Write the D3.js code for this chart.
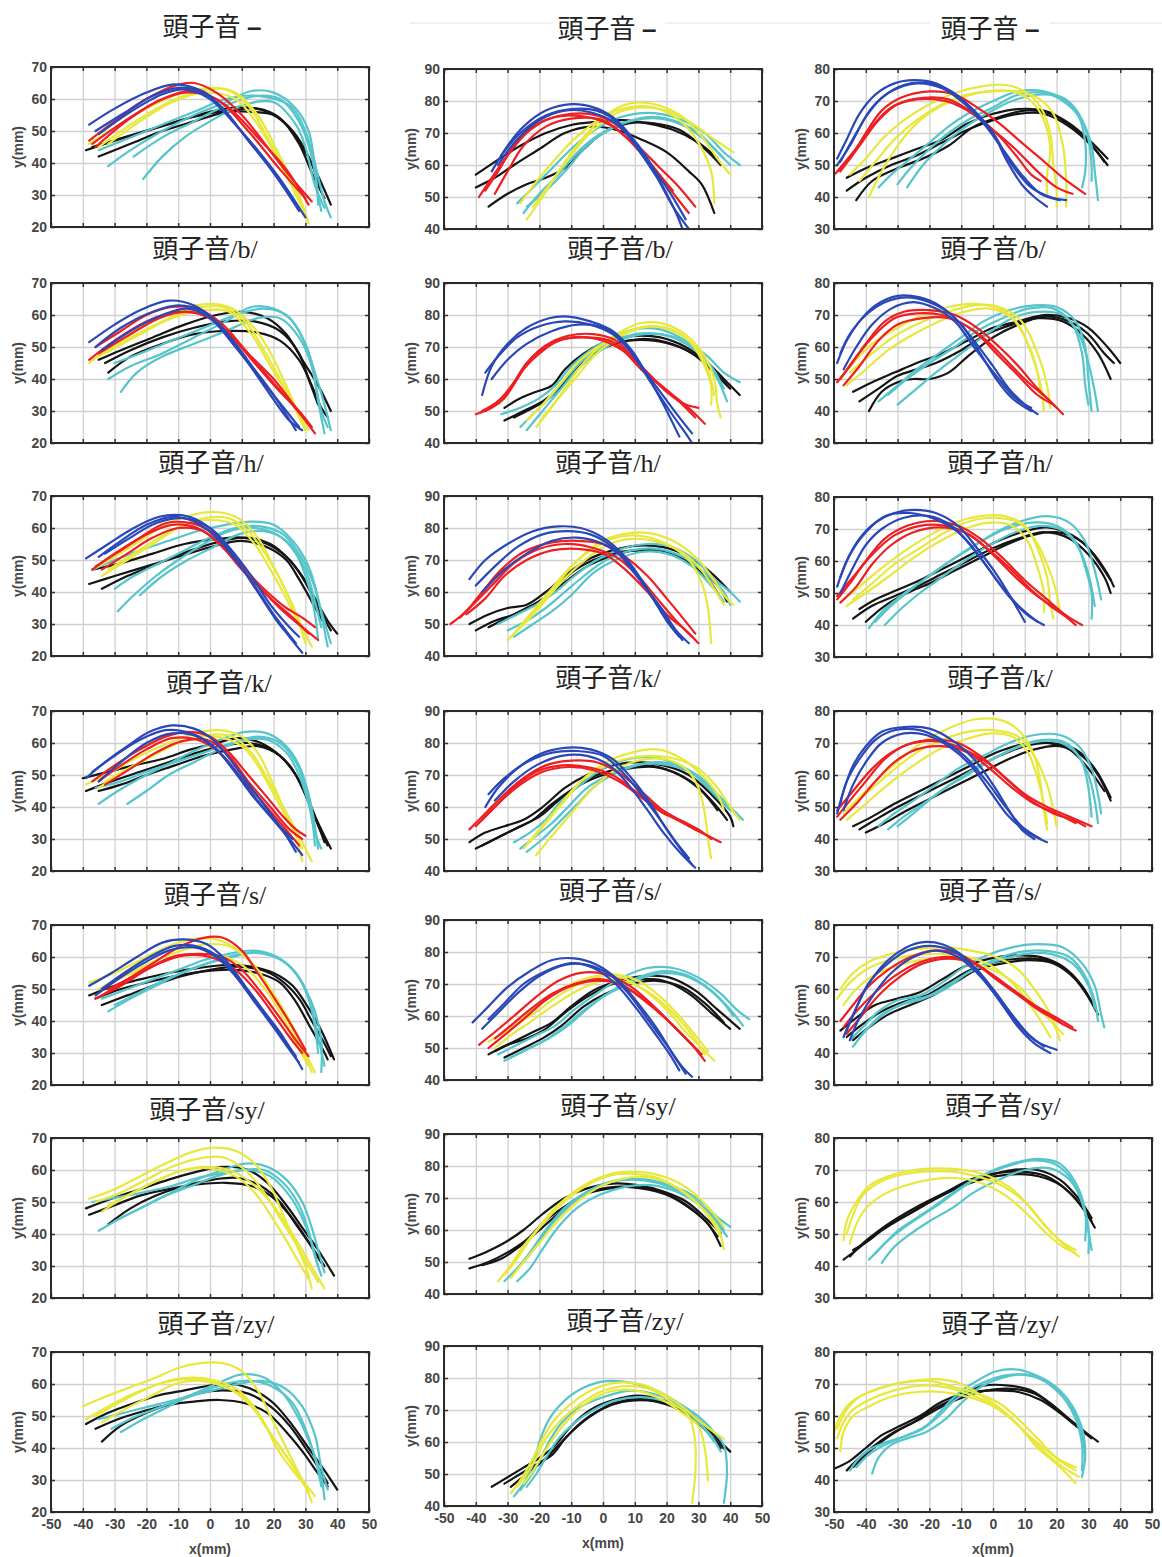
<!DOCTYPE html>
<html>
<head>
<meta charset="utf-8">
<script src="https://cdn.jsdelivr.net/npm/d3@7"></script>
<style>
  body { margin: 0; background: #fff; }
  svg { display: block; }
</style>
</head>
<body>
<svg id="chart"></svg>
<script>
// tongue contours, x/y in mm, each curve is a flat list x1,y1,x2,y2,...
const rowNames = ["–", "/b/", "/h/", "/k/", "/s/", "/sy/", "/zy/"];
const yDomains = [[20, 70], [40, 90], [30, 80]];
const xTickValues = [-50, -40, -30, -20, -10, 0, 10, 20, 30, 40, 50];

const none1 = {
  blue: [[-38,52,-30,57,-20,62,-12,64.5,-5,63.5,0,61,8,52,15,44,22,35,30,23],
         [-36,50,-28,55,-18,61,-10,63.5,-2,62,5,56,12,47,20,37,28,25],
         [-35,49,-25,56,-15,61.5,-8,63,0,60,8,52,17,41,27,27]],
  red: [[-38,47,-30,53,-20,60,-10,64.5,-5,65,2,62,10,55,18,45,25,36,32,28],
        [-36,45,-25,54,-15,60,-5,62.5,5,58,15,48,24,38,31,27],
        [-37,46,-27,53,-17,59,-8,62,2,60,12,50,22,38,30,29]],
  yellow: [[-38,46,-30,51,-20,57,-10,61.5,0,63.5,8,62,15,55,22,42,28,30,31,21],
           [-35,45,-25,52,-15,58,-5,62,5,63,12,58,18,48,25,35,30,24],
           [-32,46,-22,53,-12,59,-2,62,8,60,15,52,22,40,29,26]],
  cyan: [[-32,39,-25,44,-15,50,-5,55,5,59,13,62.5,20,62,27,57,31,50,33,40,36,28,38,23],
         [-24,42,-15,48,-5,53,5,58,15,61,22,60,28,53,32,42,34,30,35,25],
         [-21,35,-15,42,-8,48,0,53,10,58,20,59,27,52,30,45,33,33,36,26],
         [-35,44,-25,48,-15,52,-5,56,5,60,15,61,25,58,30,50,33,38,34,27]],
  black: [[-39,44,-30,47,-20,50,-10,53,0,56,10,57.5,18,56,24,52,29,45,33,38,38,27],
          [-35,42,-25,46,-15,50,-5,53,5,56,15,57,22,54,28,46,32,37,36,29],
          [-37,45,-27,48,-17,51,-7,54,3,56,13,56,20,55,26,50,31,42,35,31]]
};
const none2 = {
  blue: [[-35,58,-30,66,-25,72,-18,77,-10,79,-3,78,3,75,8,70,14,62,19,53,23,45,25,40],
         [-32,63,-26,70,-18,75.5,-10,77.5,-2,77,5,73,11,65,17,56,22,47,27,40],
         [-33,60,-27,68,-20,74,-12,77,-4,76.5,4,73,12,64,20,53,26,43]],
  red: [[-39,50,-35,56,-30,63,-24,70,-18,74,-10,76,-2,75.5,5,72,12,65,18,59,24,53,29,47],
        [-37,52,-33,58,-28,66,-22,72,-15,75,-5,75,3,72,10,66,17,58,23,50,27,45],
        [-34,51,-30,58,-25,66,-18,72,-10,74.5,0,74,8,68,15,60,22,52]],
  yellow: [[-24,43,-19,50,-14,58,-9,65,-3,72,3,77,10,79.5,18,78.5,25,75,31,69,36,62,40,57],
           [-26,48,-20,56,-14,63,-8,69,0,75,8,78,16,78,24,74,30,67,34,58,35,48],
           [-22,47,-16,55,-10,63,-4,70,4,76,12,78,20,77,28,73,35,68,41,64]],
  cyan: [[-27,48,-22,53,-16,59,-10,65,-4,70,3,74,10,76,18,76,25,74,32,70,38,64,43,60],
         [-25,45,-20,51,-14,57,-8,64,-2,69,6,73,14,75,22,74,30,70,36,64,40,60],
         [-24,47,-18,52,-12,58,-5,66,2,71,10,74,18,74.5,26,72,33,67,38,62]],
  black: [[-40,57,-34,61,-26,66,-18,70,-10,72.5,-2,73.5,6,74,14,73,22,71,30,67,36,62],
          [-40,53,-34,56,-28,60,-20,65,-12,70,-4,72,4,71,12,68,20,64,27,58,31,54,35,45],
          [-36,47,-30,51,-24,54,-18,56,-12,59,-6,65,0,70,8,73,16,73,24,71,32,65,37,60]]
};
const none3 = {
  blue: [[-49,52,-46,58,-42,66,-37,72,-31,75.5,-25,76.5,-18,75.5,-12,72,-6,67,0,60,4,52,9,44,13,40,17,37],
         [-49,50,-45,56,-40,65,-35,71,-28,75,-20,75.5,-13,73,-6,67,0,60,6,50,12,43,18,40,23,39],
         [-48,51,-43,60,-38,68,-32,73,-24,75.5,-16,74,-10,70,-3,63,3,55,9,47,15,41,21,39]],
  red: [[-50,47,-45,52,-40,60,-35,67,-29,71,-20,73,-12,72,-5,68,2,63,9,57,15,52,22,46,29,41],
        [-49,48,-44,54,-38,62,-32,68,-24,70.5,-15,70,-8,67,0,61,7,55,14,48,20,43,25,41],
        [-48,48,-42,56,-36,64,-30,69,-22,71,-14,70.5,-6,66,2,59,8,52,12,47,15,45]],
  yellow: [[-45,47,-40,52,-35,58,-28,64,-20,69,-12,72.5,-4,74.5,4,75,10,73,15,68,18,60,19,50,20,42,20,37],
           [-39,40,-35,48,-30,56,-24,63,-17,68,-10,71,-2,73,6,73,12,70,16,64,18,55,17,47,17,41],
           [-42,45,-37,51,-31,58,-24,64,-16,69,-8,72,0,73,8,73,14,71,19,66,22,56,23,45,23,37]],
  cyan: [[-36,43,-32,47,-26,52,-20,57,-14,62,-8,66,0,70,8,73,16,73,23,70,28,64,31,56,32,48,33,39],
         [-30,44,-26,49,-20,55,-14,60,-8,64,0,68,8,72,16,72.5,22,70,27,65,29,57,29,48,28,43],
         [-27,43,-22,50,-16,56,-10,61,-2,66,6,70,14,72,22,71,27,66,30,58,31,50,31,45]],
  black: [[-46,46,-40,49,-32,52,-24,55,-16,58,-8,63,0,66,8,67.5,16,67,24,63,30,58,36,52],
          [-46,42,-40,46,-32,50,-24,53,-16,57,-8,61,0,64,8,66,16,66,24,62,31,56,36,50],
          [-43,39,-38,45,-30,49,-22,52,-14,56,-6,62,2,65,10,67,18,66,26,61,32,55,35,51]]
};

const b1 = {
  blue: [[-38,51.5,-30,57,-22,61.5,-13,64.5,-5,63,2,58,8,51,14,43,20,35,27,24],
         [-36,50,-28,56,-18,61,-10,63,-2,61,5,54,12,45,19,35,25,27,29,24],
         [-34,49,-25,55,-15,60,-7,62,0,59,8,50,16,40,24,30,28,25]],
  red: [[-36,50,-28,55,-20,60,-12,62.5,-4,62,4,57,12,48,20,40,27,31,33,23],
        [-38,46,-30,52,-20,58,-10,61,-2,60,6,54,14,45,22,36,28,30,32,25],
        [-35,48,-25,54,-16,59,-8,61,0,59,10,50,18,41,25,33,31,26]],
  yellow: [[-38,45,-30,51,-20,57,-10,61.5,0,63.5,7,62,13,57,18,50,23,40,27,31,30,24],
           [-35,47,-25,53,-15,58,-5,62,4,62.5,11,58,17,49,22,40,27,31,31,24],
           [-33,48,-22,54,-12,59,-2,61.5,6,61,13,54,19,44,25,34,29,26]],
  cyan: [[-32,40,-25,44,-15,48,-5,53,5,58,13,62.5,20,62,26,58,30,51,33,42,36,32,38,24],
         [-28,36,-23,42,-15,47,-5,51,5,55,15,59,22,59,28,53,32,44,34,33,36,23],
         [-30,45,-22,48,-12,52,-2,56,8,60,17,62,24,60,29,53,32,44,35,30,37,25]],
  black: [[-35,46,-28,49,-18,53,-8,57,2,60,10,61,18,59,24,54,29,46,34,38,38,30],
          [-32,42,-25,47,-15,51,-5,54,5,55,15,54.5,22,52,28,46,32,38,35,31,37,28],
          [-33,45,-25,49,-15,53,-5,56,5,58,14,58,22,55,28,48,31,40,34,32]]
};
const b2 = {
  blue: [[-38,55,-35,64,-30,71,-24,76,-17,79,-11,79.5,-4,78,3,75,9,69,14,61,19,52,24,42],
         [-37,62,-33,67,-27,73,-20,76.5,-12,78,-4,77,3,74,9,68,15,59,21,50,26,43,28,40],
         [-35,60,-30,66,-24,71,-16,75,-8,77,0,76,6,72,12,64,18,56,24,48,28,43]],
  red: [[-40,49,-35,51,-31,54,-27,60,-23,66,-18,70.5,-11,73.5,-3,74,4,72,10,66,16,60,22,55,28,50,32,46],
        [-38,50,-33,53,-29,57,-25,63,-20,68,-14,72,-6,73,2,72,8,68,14,62,20,56,26,52,30,51],
        [-37,50,-32,54,-28,59,-24,65,-18,70,-10,73,-2,72.5,6,69,12,63,18,58,25,52,29,48]],
  yellow: [[-21,45,-17,50,-12,57,-7,64,0,71,6,75,12,77.5,20,77,27,73,32,67,35,60,36,52,37,48],
           [-24,47,-19,52,-13,59,-7,66,0,71,8,75,15,76.5,22,75,29,70,33,63,35,55],
           [-19,48,-14,54,-8,61,-2,68,5,73,12,76,20,76,27,72,31,66,34,58,34,52]],
  cyan: [[-32,49,-26,51,-20,54,-15,58,-10,64,-4,69,3,73,10,75.5,18,75.5,26,72,33,67,38,62,43,59],
         [-26,45,-21,50,-16,55,-11,61,-5,67,2,71,10,74,18,74,26,71,32,66,36,60,39,53],
         [-24,44,-19,50,-14,56,-8,63,-2,68,5,72,13,74,21,73.5,28,70,34,64,38,57]],
  black: [[-31,51,-26,54,-21,56,-16,58,-12,63,-6,68,2,72,10,73.5,18,73,26,70,33,65,38,60,43,55],
          [-31,47,-25,50,-19,53,-14,57,-9,63,-3,68,4,71,12,72.5,20,71.5,28,68,34,63,39,58],
          [-28,48,-22,51,-17,54,-12,59,-6,66,0,70,8,72,16,72,24,70,31,66,36,61,40,57]]
};
const b3 = {
  blue: [[-49,55,-46,62,-42,68,-37,73,-30,76,-23,75.5,-17,73,-10,67,-4,58,1,50,6,44,12,40],
         [-48,58,-45,64,-40,70,-34,74,-27,75.5,-20,74,-13,70,-6,62,0,54,5,47,10,42,14,39],
         [-47,53,-43,60,-38,67,-32,72,-25,74,-18,72,-12,68,-6,60,1,51,7,44,12,41]],
  red: [[-49,49,-45,54,-40,61,-34,68,-28,71,-20,71.5,-12,70,-5,66,2,60,8,54,14,47,20,41],
        [-48,50,-43,57,-37,64,-31,69,-24,70.5,-16,70,-9,67,-2,62,5,55,11,49,17,44,22,39],
        [-47,48,-42,54,-36,62,-30,67,-22,69,-14,69,-6,65,1,58,8,51,14,45,19,42]],
  yellow: [[-48,50,-44,55,-38,61,-30,66,-22,70,-14,72.5,-6,73.5,2,72,8,67,12,58,15,48,16,40],
           [-46,48,-40,53,-33,59,-25,64,-17,68,-9,71,-1,72,6,69,11,61,14,52,15,44],
           [-45,52,-38,58,-30,64,-22,68,-14,71,-6,73,2,72.5,9,68,14,58,17,48,18,41]],
  cyan: [[-36,43,-30,48,-24,53,-17,58,-10,63,-3,68,5,71.5,13,73,20,72.5,26,68,29,60,30,50,31,40],
         [-33,45,-27,50,-20,55,-12,60,-5,65,3,69,11,72,19,72,25,67,28,58,29,48,30,42],
         [-30,42,-24,47,-18,52,-10,58,-2,64,6,69,14,71,22,70,27,64,30,55,32,46,33,40]],
  black: [[-39,40,-35,46,-30,49,-25,50,-20,50,-14,52,-8,57,0,63,8,67,16,69.5,24,68,30,64,35,58,38,55],
          [-42,43,-36,47,-30,51,-24,53,-18,55,-10,59,-2,64,6,67,14,69,22,68,28,64,33,58,37,50],
          [-44,46,-38,49,-31,52,-24,55,-16,58,-8,62,0,66,8,68,16,70,24,69,30,66,36,60,40,55]]
};

const h1 = {
  blue: [[-39,50.5,-32,55,-24,60,-16,63.5,-9,64,-3,62,3,57,9,49,15,40,21,31,25,26,29,21],
         [-35,51,-28,56,-20,61,-12,63.5,-5,62,2,57,8,50,14,42,20,33,27,24],
         [-33,52,-25,57,-17,61.5,-8,63,0,60,6,54,13,45,19,36,25,29,28,26]],
  red: [[-37,47,-30,52,-22,57,-14,61.5,-6,61.5,0,59,6,53,12,46,18,40,24,35,29,32,33,29],
        [-36,48,-28,53,-20,58,-12,61,-4,60,3,55,10,47,17,40,23,34,29,29,34,25],
        [-34,47,-26,52,-18,57,-10,60,-2,59,5,53,12,45,19,38,26,32,31,27]],
  yellow: [[-37,47,-30,51,-22,56,-14,61,-6,64,2,65,9,63,15,57,20,48,25,38,29,29,32,23],
           [-34,45,-26,50,-18,55,-10,60,-2,63,6,63,12,59,18,51,23,42,27,33,30,24],
           [-32,47,-24,52,-16,57,-8,61,0,62.5,8,61,14,55,19,47,24,38,28,30,31,25]],
  cyan: [[-37,47,-30,50,-22,53,-13,56,-4,59,5,61,13,62,20,61,26,56,31,48,34,38,36,28,37,23],
         [-30,41,-24,45,-16,49,-8,53,0,57,8,60,16,60.5,23,58,28,52,32,44,35,34,38,24],
         [-29,34,-24,39,-17,45,-10,50,-2,55,6,59,14,60,21,58,27,52,31,42,33,33,34,25],
         [-22,39,-15,45,-7,50,1,54,9,58,17,59,24,56,30,47,33,37,35,29]],
  black: [[-37,47,-28,49,-18,52,-8,55,2,56.5,10,57,18,55,24,51,29,45,33,38,37,31,40,27],
          [-38,42.5,-30,45,-20,48,-10,51,0,54,10,56,18,54,24,50,28,44,32,37,36,30],
          [-34,41,-26,45,-16,49,-6,53,4,56,12,57,19,55,25,50,30,43,34,35,38,28]]
};
const h2 = {
  blue: [[-42,64,-37,70,-30,75,-22,79,-14,80.5,-7,80,0,77,6,72,12,64,17,56,21,50,25,45],
         [-40,62,-34,68,-27,74,-19,78,-11,79,-4,78,3,74,9,67,15,59,20,51,24,46],
         [-38,60,-31,67,-24,72,-16,76,-8,77,0,75,7,70,13,62,19,54,23,48,27,44]],
  red: [[-48,50,-43,54,-38,60,-32,67,-25,72.5,-16,75.5,-8,76,0,75,7,71,14,65,20,58,25,52,29,47],
        [-45,52,-40,57,-34,63,-28,69,-20,73.5,-12,75,-4,74,4,71,11,65,17,58,23,51,28,46],
        [-43,53,-37,58,-31,65,-24,70,-16,73,-8,73.5,0,72,7,67,14,60,20,53,26,48,30,44]],
  yellow: [[-30,45,-25,50,-20,56,-14,63,-8,70,-1,75.5,6,78,14,78.5,22,76,29,71,34,65,38,59,41,56],
           [-28,47,-23,53,-17,60,-11,67,-4,73,4,77,12,77.5,20,75,27,70,31,63,33,55,34,44],
           [-26,49,-21,54,-15,61,-8,68,0,74,8,76.5,16,76,24,73,30,68,35,61,38,56]],
  cyan: [[-33,50,-27,53,-21,56,-15,60,-9,65,-2,70,6,73.5,14,75,22,74,29,70,35,64,40,60,43,57],
         [-30,48,-24,51,-18,55,-12,60,-6,65,1,70,9,73,17,73.5,25,71,32,66,38,60,40,56],
         [-28,46,-22,50,-16,54,-10,59,-3,66,4,70,12,72.5,20,72,28,68,34,62,38,57]],
  black: [[-42,50,-36,53,-30,55,-24,56,-18,60,-12,65,-5,70,3,73,11,74.5,19,74,27,71,34,66,40,60],
          [-40,48,-34,51,-28,53,-22,56,-16,60,-10,66,-3,70,5,72.5,13,73,21,72,29,68,36,62,39,57],
          [-36,49,-30,52,-24,55,-18,58,-12,63,-5,68,2,71,10,73,18,73,26,70,33,64,37,58]]
};
const h3 = {
  blue: [[-49,52,-46,60,-42,67,-37,72,-31,75,-25,76,-18,75,-11,71,-5,64,1,56,6,48,10,41],
         [-48,50,-44,58,-40,65,-35,70,-28,73.5,-20,74,-13,71,-7,65,-1,57,5,49,11,43,16,40],
         [-48,55,-45,62,-40,69,-34,74,-26,75,-18,73,-11,69,-4,61,2,53,8,46,14,41]],
  red: [[-49,48,-45,53,-40,60,-34,67,-27,71,-19,72.5,-11,71,-4,67,3,61,10,54,17,48,23,43,28,40],
        [-48,47,-43,52,-38,59,-32,65,-25,69,-17,70.5,-9,69,-2,64,5,58,12,51,18,46,24,42],
        [-49,49,-44,55,-38,62,-31,68,-23,71,-15,71,-7,68,0,62,7,55,14,49,20,45,26,40]],
  yellow: [[-47,48,-42,52,-36,57,-28,63,-20,68,-12,72,-4,74,4,74,10,71,14,64,17,55,18,47,19,42],
           [-46,46,-40,50,-33,55,-25,61,-17,66,-9,70,-1,72,6,71,11,66,14,58,16,50,16,44],
           [-44,48,-38,53,-31,59,-23,64,-15,69,-7,72.5,1,73.5,8,72,13,67,17,59,20,50,21,44]],
  cyan: [[-39,39,-35,44,-29,49,-22,54,-15,59,-7,64,1,69,9,72.5,17,74,24,72,29,66,32,57,34,48],
         [-37,41,-32,46,-26,51,-19,56,-12,61,-4,66,4,70,12,72,20,71,26,66,29,58,31,50,31,42],
         [-34,40,-29,45,-23,50,-16,55,-9,60,-1,65,7,69,15,71,22,69.5,27,64,30,56,32,46]],
  black: [[-42,45,-37,48,-30,51,-23,54,-15,58,-7,62,1,66,9,69,17,70.5,25,68,31,63,36,56,38,52],
          [-44,42,-38,46,-31,49,-24,52,-16,56,-8,60,0,64,8,67,16,69,24,67,30,62,35,55,37,50],
          [-40,41,-34,46,-27,50,-20,53,-12,57,-4,61,4,65,12,68,20,69,28,66,33,60,37,54]]
};

const k1 = {
  blue: [[-39,49,-33,54,-26,59,-19,63.5,-12,65.5,-5,64.5,1,61,7,54,13,46,19,38,24,31,27,26],
         [-37,51,-30,56,-22,61,-14,64,-6,63,1,59,7,52,13,44,19,37,25,30,29,25],
         [-35,48,-28,54,-20,60,-12,63,-4,62,3,57,9,50,15,42,21,35,26,30]],
  red: [[-37,48,-30,53,-22,58,-14,62,-7,63.5,0,62,6,57,12,50,18,43,23,37,27,33,30,31],
        [-35,48,-28,53,-20,58,-12,61.5,-4,61,3,57,10,49,17,41,23,34,28,28],
        [-33,47,-25,52,-17,57,-9,60.5,-1,61,6,56,12,48,19,40,25,33,29,30]],
  yellow: [[-39,47,-31,51,-22,56,-13,60,-5,63,3,64,10,62,15,57,19,49,23,40,27,31,29,23],
           [-35,46,-27,51,-18,56,-9,60.5,-1,62.5,7,62,13,57,18,49,23,40,28,31,32,23],
           [-33,48,-24,53,-15,58,-6,61.5,2,62,10,59,15,53,20,44,25,35,29,27]],
  cyan: [[-35,41,-29,45,-22,49,-14,53,-6,57,3,61,11,63.5,18,63,24,59,28,53,31,44,33,34,34,27],
         [-26,41,-20,45,-13,50,-5,54,3,58,11,61,18,61,24,57,28,50,31,41,33,32,35,27],
         [-36,46,-28,48,-20,51,-11,54,-2,57,7,60,15,62,22,60,27,54,30,46,32,37,33,28]],
  black: [[-40,49,-32,51,-24,53,-15,55,-6,58,2,60,9,61.5,16,60,22,56,27,50,31,42,34,35,38,27],
          [-39,45,-31,48,-22,51,-13,54,-4,57,4,59,12,60,19,58,25,53,29,46,32,39,35,32,37,28],
          [-35,45,-28,47,-20,50,-11,53,-2,56,7,58,15,59,22,56,27,50,30,44,33,37,36,29]]
};
const k2 = {
  blue: [[-37,60,-33,66,-27,72,-20,76.5,-12,78.5,-4,78,3,75,9,69,15,61,20,53,25,46,28,42],
         [-36,64,-31,69,-24,74,-16,77,-8,77.5,0,76,6,71,12,64,18,56,23,49,27,44],
         [-34,62,-28,68,-21,73,-13,76,-5,76,2,73,8,67,14,59,19,52,24,46,29,41]],
  red: [[-42,53,-37,58,-31,64,-25,69,-18,73,-10,74.5,-2,74,6,70,13,64,20,58,27,54,33,51,37,49],
        [-40,54,-34,60,-28,66,-21,71,-13,73,-5,72.5,3,70,10,65,17,60,24,56,30,53,34,50],
        [-38,56,-32,62,-26,67,-19,71,-11,72.5,-3,71.5,5,68,12,63,19,58,26,55,31,52]],
  yellow: [[-25,47,-20,53,-14,60,-8,67,-1,72,7,75,15,76,23,75,30,72,36,66,40,60,43,56],
           [-23,49,-18,55,-12,62,-6,69,1,74,9,77,17,78,25,75,31,70,36,64,38,59],
           [-21,45,-16,51,-10,58,-4,65,3,71,11,74.5,19,75,26,72,30,66,32,58,33,50,34,44]],
  cyan: [[-28,49,-23,52,-18,56,-13,62,-7,67,0,72,8,75,16,75.5,24,73,31,69,37,63,41,59,44,56],
         [-26,47,-21,51,-16,55,-11,60,-5,66,2,70,10,73,18,74,26,72,32,67,38,61,42,58],
         [-24,46,-19,50,-14,55,-8,61,-2,67,5,71,13,73.5,21,73,29,70,35,64,40,59]],
  black: [[-42,49,-37,52,-31,54,-25,56,-19,60,-12,66,-5,70,3,73,11,74,19,73,27,70,34,64,40,57,41,54],
          [-40,47,-34,50,-28,53,-22,56,-16,61,-9,66,-2,70,6,72,14,73,22,71,29,67,35,61,39,56],
          [-38,48,-32,51,-26,54,-20,57,-14,62,-7,67,0,70,8,72,16,72.5,24,70,31,65,36,59]]
};
const k3 = {
  blue: [[-49,48,-47,55,-44,63,-40,69,-35,73.5,-28,75,-20,74.5,-13,71,-6,65,0,57,5,49,9,43,13,40],
         [-48,51,-46,58,-42,65,-37,71,-31,74,-23,74,-16,71,-9,66,-2,58,4,50,9,44,15,40],
         [-47,49,-44,57,-40,64,-35,70,-28,73,-21,72.5,-14,69,-7,63,-1,55,5,47,11,42,17,39]],
  red: [[-49,47,-45,52,-40,58,-34,65,-27,69.5,-19,71,-11,70,-4,66,3,60,10,54,17,50,24,47,31,44],
        [-48,46,-43,51,-37,58,-31,64,-24,68,-16,69,-8,67,-1,62,6,56,13,51,20,48,26,45],
        [-49,49,-44,55,-38,62,-32,67,-25,70,-17,70.5,-9,68,-2,64,5,58,12,52,19,48,25,46,29,44]],
  yellow: [[-47,48,-42,53,-36,59,-29,65,-21,71,-13,75,-5,77.5,3,77,9,73,13,66,15,57,16,49,17,43],
           [-46,46,-40,51,-33,57,-25,63,-17,68,-9,71,-1,73,6,72,11,67,14,59,16,51,17,45],
           [-45,50,-39,55,-32,61,-24,67,-16,71,-8,73.5,0,74,8,72,13,66,17,57,19,49,20,44]],
  cyan: [[-36,44,-31,48,-25,52,-18,57,-11,62,-3,66,5,70,13,72.5,21,72.5,27,69,31,62,33,54,34,48],
         [-33,43,-28,47,-22,51,-15,56,-8,60,0,65,8,69,16,71,23,70,28,64,30,56,31,47],
         [-30,44,-25,48,-19,53,-12,58,-4,63,4,67,12,70,20,70.5,26,67,30,60,32,52,33,45]],
  black: [[-42,43,-37,46,-30,50,-22,54,-14,58,-6,62,2,66,10,69,18,70,26,68,32,62,37,53],
          [-44,44,-38,47,-31,51,-23,55,-15,59,-7,63,1,67,9,69.5,17,70,24,68,30,62,35,55],
          [-40,42,-34,45,-27,49,-19,53,-11,57,-3,61,5,65,13,68,21,69,28,66,33,60,37,52]]
};

const s1 = {
  blue: [[-38,51,-31,55,-23,60,-15,64.5,-8,65.5,-1,64,5,59,11,51,17,43,23,35,29,25],
         [-36,48,-29,53,-21,58,-13,62,-5,63,2,60,8,54,14,46,20,38,25,31,28,27],
         [-34,50,-27,55,-19,60,-11,63.5,-3,63,4,59,10,52,16,44,22,36,27,29]],
  red: [[-36,47,-28,51,-20,56,-12,60,-4,61,4,60,10,56,16,49,22,41,27,34,31,29],
        [-34,48,-26,53,-18,58,-10,63,-2,66,4,66,10,62,15,55,21,46,26,38,30,31],
        [-32,50,-24,54,-16,58,-8,60.5,0,60,8,56,14,50,20,42,25,35,29,30]],
  yellow: [[-38,52,-30,55,-22,59,-14,63,-6,65.5,2,65.5,9,62,15,56,20,48,25,39,29,31,32,24],
           [-35,50,-27,54,-19,57,-11,60,-3,61,5,60,12,56,18,49,23,41,27,33,31,26],
           [-33,51,-25,55,-17,59,-9,62,-1,64,7,63,13,58,19,50,24,42,28,34,33,24]],
  cyan: [[-32,43,-25,47,-17,51,-9,55,-1,58,7,60,14,61.5,21,60,26,56,30,50,33,43,35,34,35,24],
         [-34,47,-26,50,-18,53,-10,56,-2,59,6,61,14,62,21,60,27,55,31,47,33,38,34,30],
         [-30,45,-22,49,-14,53,-6,56,2,59,10,61,17,61,24,58,29,52,32,44,34,35,36,26]],
  black: [[-38,48,-30,51,-22,53,-13,55,-4,56.5,5,57.5,13,57,20,55,26,51,31,44,35,37,39,28],
          [-34,45,-26,48,-18,51,-9,54,0,56,8,57,16,56,22,53,28,47,32,40,36,33,38,29],
          [-36,47,-28,50,-20,52,-11,54,-2,55.5,7,56,15,55,22,52,27,46,31,39,35,32,37,28]]
};
const s2 = {
  blue: [[-41,58,-36,63,-30,69,-23,74,-16,77.5,-9,78,-2,76,5,71,11,64,17,56,22,48,26,42],
         [-38,56,-33,61,-27,67,-20,72.5,-12,76,-5,76,2,73,8,67,14,59,20,51,25,44,28,41],
         [-36,59,-31,64,-25,70,-18,74,-10,76.5,-3,75,4,70,10,63,16,55,21,48,24,43]],
  red: [[-39,51,-34,55,-28,60,-21,66,-14,71,-7,73.5,1,73,9,69,16,63,22,57,28,51,32,46],
        [-36,50,-31,54,-25,59,-18,65,-11,69,-3,71,5,70,12,66,19,60,25,54,30,49],
        [-34,53,-29,57,-23,62,-16,67,-9,70,-1,71.5,7,69,14,64,21,58,27,52,31,48]],
  yellow: [[-36,52,-31,55,-25,60,-18,65,-10,70,-2,72.5,6,72,13,68,20,62,26,55,31,50,35,46],
           [-34,50,-29,54,-23,58,-16,63,-8,68,0,71,8,70.5,15,67,22,61,28,54,32,48],
           [-32,54,-26,58,-20,62,-13,67,-5,71,3,73,11,71,18,66,24,60,29,54,33,49]],
  cyan: [[-33,48,-27,51,-21,54,-15,57,-9,62,-2,67,6,72,14,75,22,75,30,72,37,67,42,62,46,59],
         [-31,46,-25,49,-19,52,-13,56,-7,61,0,66,8,70,16,73,24,73,31,70,37,65,41,60],
         [-29,47,-23,50,-17,53,-11,57,-4,63,3,68,11,72,19,74,27,72.5,34,68,40,62,44,57]],
  black: [[-34,49,-28,52,-22,55,-16,58,-10,63,-3,68,5,71,13,72.5,21,72,29,68,36,62,43,56],
          [-36,48,-30,51,-24,53,-18,56,-12,61,-5,66,3,70,11,71.5,19,71,27,67,34,61,40,56],
          [-31,47,-25,50,-19,53,-13,57,-6,63,1,67,9,70,17,71,25,69,32,64,38,58]]
};
const s3 = {
  blue: [[-47,45,-44,52,-40,60,-35,67,-29,72,-23,74.5,-16,74,-9,70,-3,63,3,55,8,48,13,43,18,40],
         [-46,47,-43,54,-39,62,-33,68,-27,72,-20,73.5,-13,72,-6,67,0,60,6,52,11,46,16,42],
         [-45,44,-42,51,-37,59,-32,65,-25,70,-18,72,-11,70,-5,65,1,58,7,50,13,44,20,41]],
  red: [[-48,50,-44,55,-39,61,-33,66,-26,70,-19,72,-11,71,-4,67,3,62,10,57,17,52,22,49,26,47],
        [-47,48,-43,53,-37,59,-31,64,-24,68,-16,70,-8,69,-1,65,6,60,13,55,20,51,25,48],
        [-46,46,-41,52,-36,58,-29,64,-22,68,-14,69.5,-6,68,1,63,8,58,15,53,21,50]],
  yellow: [[-48,60,-44,65,-39,68.5,-32,71,-24,72.5,-15,73,-7,72,1,70,8,66,13,60,17,54,20,48,22,46],
           [-49,57,-45,62,-40,66,-33,69,-25,70.5,-16,71,-8,70,0,67,6,62,11,56,15,50,18,45],
           [-47,55,-43,60,-38,64,-31,67,-23,69,-14,69.5,-6,68,2,65,9,60,14,54,19,49,21,44]],
  cyan: [[-45,44,-41,48,-36,53,-30,56.5,-23,58,-16,62,-9,67,-2,70.5,6,73,14,74,22,73,28,68,32,61,34,52,35,48],
         [-44,42,-40,47,-35,52,-29,55,-22,57,-15,60,-8,65,0,69,8,71.5,16,72,24,70,29,64,32,56,33,50],
         [-42,45,-38,49,-33,53,-27,56,-20,58,-13,62,-6,66,2,69,10,71,18,71,25,68,30,61,32,54]],
  black: [[-48,47,-43,51,-37,55,-30,57,-23,59,-16,63,-9,67,-1,69.5,7,70.5,15,70,22,67,28,61,32,54],
          [-46,45,-41,49,-35,53,-28,56,-21,58,-14,62,-7,66,1,68.5,9,69.5,17,69,24,65,29,59,33,52],
          [-44,44,-39,48,-33,52,-26,55,-19,58,-12,62,-5,66,3,68,11,69,19,68,26,63,31,56]]
};

const sy1 = {
  yellow: [[-38,51,-30,54,-22,58,-14,62,-6,65.5,1,67,8,66,14,62,19,55,23,46,27,37,30,30,32,23],
           [-36,50,-28,53,-20,57,-12,61,-4,63.5,4,64,11,60,17,53,22,45,27,37,31,30,34,25],
           [-34,47,-26,52,-18,56,-10,59.5,-2,61,6,60,13,56,19,50,24,43,29,35,33,28,36,23],
           [-32,49,-24,53,-16,57,-8,60,0,60.5,8,58,14,53,19,46,24,38,28,31,31,26]],
  cyan: [[-35,41,-28,45,-20,49,-12,53,-4,57,4,60,11,62,18,61,24,57,29,50,32,42,34,35,36,28],
         [-37,50,-29,51.5,-21,53,-12,55,-4,57.5,4,59,12,60,19,58,25,52,29,45,32,37,34,30],
         [-30,44,-22,48,-14,52,-6,55,2,58,10,60,17,60,23,56,28,49,31,41,33,33,35,27]],
  black: [[-39,48,-31,51,-22,54,-13,57,-4,59.5,4,61,12,60,18,56,24,49,29,42,34,35,39,27],
          [-38,46,-30,49,-22,52,-13,54,-4,55.5,5,56,13,55,19,52,25,46,30,39,35,31],
          [-32,43,-25,48,-17,52,-8,55,1,57,9,57.5,16,55,22,50,27,43,32,36,36,30]]
};
const sy2 = {
  yellow: [[-33,44,-29,49,-25,55,-20,61,-15,67,-9,72,-2,76,5,78,13,78,21,76,28,72,34,66,38,61],
           [-31,46,-27,51,-23,57,-18,63,-12,69,-5,74,2,77,10,77.5,18,76,25,72,31,67,36,61,38,54],
           [-29,45,-25,50,-20,56,-15,62,-9,68,-2,73,6,76,14,76.5,22,74,29,69,34,63,37,58]],
  cyan: [[-31,44,-27,48,-23,53,-18,60,-12,67,-5,72,2,75,10,76,18,75,26,72,32,68,36,64,40,61],
         [-29,46,-25,50,-21,55,-16,62,-10,68,-3,73,5,75.5,13,75.5,21,73.5,28,70,34,65,38,60],
         [-27,44,-23,48,-19,54,-14,61,-8,67,-1,71,7,73.5,15,74,23,72,30,68,35,63,39,58]],
  black: [[-42,51,-37,53,-31,56,-25,60,-19,65,-12,70,-5,73,3,74.5,11,74,19,72,26,69,32,64,37,59],
          [-42,48,-36,50,-30,53,-24,57,-18,63,-11,68,-4,72,4,73.5,12,73,20,71,27,67,33,62,37,55],
          [-38,49,-32,51,-26,55,-20,60,-13,66,-6,71,2,73,10,73.5,18,72,26,68,32,63,36,58]]
};
const sy3 = {
  yellow: [[-47,48,-46,54,-43,60,-39,65,-33,68,-25,70,-17,70.5,-9,70,-1,68,6,64,12,58,17,52,22,47,27,43],
           [-46,50,-44,56,-41,62,-36,66,-29,68.5,-21,69.5,-13,69.5,-5,68,3,65,10,60,16,53,21,48,26,45],
           [-45,47,-43,53,-40,58,-35,62,-28,65,-20,67,-12,67.5,-4,66,4,62,11,56,17,50,22,46,26,44]],
  cyan: [[-39,42,-35,46,-30,51,-24,55,-18,59,-11,64,-4,68,4,71,12,73,19,72,24,68,28,60,30,52,30,44],
         [-37,44,-33,48,-28,52,-22,56,-16,60,-9,65,-2,69,6,72,14,73.5,21,72,26,66,29,57,29,48],
         [-35,41,-31,46,-26,50,-20,54,-13,58,-6,63,2,67,10,70,18,70.5,24,67,28,60,30,51,31,45]],
  black: [[-47,42,-43,45,-38,49,-32,53,-25,57,-18,61,-10,65,-2,68,6,70,14,70,21,67,27,61,31,55],
          [-45,43,-41,47,-36,51,-30,55,-23,59,-15,63,-7,67,1,69,9,69.5,17,68,24,63,29,57,32,52],
          [-44,45,-39,48,-34,52,-27,56,-20,60,-12,64,-4,67,4,68.5,12,68.5,20,66,26,61,31,54]]
};

const zy1 = {
  yellow: [[-40,53,-33,56,-25,59,-17,62,-10,65,-3,66.5,4,66.5,10,64,15,58,19,50,23,42,27,34,30,28,32,23],
           [-39,49,-32,53,-24,57,-16,60,-8,61.5,0,61,7,58,13,53,18,46,23,39,27,33,31,26],
           [-36,50,-29,54,-21,58,-13,61,-5,62,2,61,9,58,15,51,20,43,25,36,29,30,33,25],
           [-34,48,-27,52,-19,56,-11,60,-3,61,5,59,12,55,17,48,21,40,26,33,31,27]],
  cyan: [[-28,45,-21,49,-13,53,-5,57,3,60.5,10,63,17,62,23,57,28,49,32,40,35,31,36,24],
         [-35,49,-27,51,-19,53,-11,55,-3,57.5,5,60,13,61,20,59,26,54,30,46,33,37,35,28],
         [-31,46,-23,50,-15,53,-7,56,1,58,9,60,16,61,23,59,29,53,33,44,35,34,37,27]],
  black: [[-39,47.5,-32,51,-24,54,-16,56.5,-8,58,0,59.5,7,60,14,58,20,54,26,47,31,40,36,33,40,27],
          [-36,46,-29,49,-21,51.5,-13,53.5,-5,54.5,3,55,11,54,18,51,24,45,29,39,34,32,37,28],
          [-34,42,-28,47,-20,51,-12,54,-4,57,4,58,12,57,19,53,25,47,30,40,34,34,37,29]]
};
const zy2 = {
  yellow: [[-29,44,-26,48,-23,53,-20,59,-16,66,-10,72,-3,76.5,4,78.5,12,78,19,75,25,71,31,66,35,63,38,61],
           [-27,46,-24,50,-21,55,-18,61,-13,67,-7,72,0,76,8,77.5,16,76,22,72,27,68,29,60,29,50,28,41],
           [-25,47,-22,51,-19,56,-15,62,-10,68,-4,73,3,76,11,76,19,73,25,69,30,65,32,58,33,48]],
  cyan: [[-28,43,-25,47,-22,53,-20,60,-17,67,-12,73,-6,77,1,79,9,78.5,17,76,24,72,30,68,35,63,38,59,39,51,38,41],
         [-26,45,-23,49,-20,54,-17,60,-13,66,-7,71,0,74,8,76,16,75,23,72,29,67,34,62,37,57],
         [-24,46,-21,50,-18,55,-14,61,-9,66,-3,70,4,73,12,74,20,72.5,27,69,32,64,35,60]],
  black: [[-35,46,-30,49,-25,52,-20,55,-15,59,-10,65,-4,70,3,73,11,74.5,19,73,26,70,32,65,37,60,40,57],
          [-31,47,-26,50,-21,53,-16,56,-12,61,-7,66,-1,70,6,72.5,14,73,22,71,29,67,34,62,38,58],
          [-29,46,-24,50,-19,54,-14,59,-9,64,-4,68,3,72,11,73.5,19,72.5,26,69,32,64,37,58]]
};
const zy3 = {
  yellow: [[-50,55,-48,60,-45,64,-40,67,-33,69.5,-25,71,-17,71.5,-10,70,-3,66,4,61,10,55,16,50,21,46,26,43],
           [-49,53,-47,58,-44,62,-38,65.5,-31,68,-23,69.5,-15,69,-8,67,-1,64,6,59,12,53,17,48,22,44,27,41],
           [-48,49,-47,55,-44,60,-39,63,-32,66,-24,67.5,-16,67.5,-8,66,0,63,8,57,14,50,20,45,26,39],
           [-49,56,-46,62,-42,66,-36,68.5,-28,70.5,-20,71,-12,69,-5,67,2,64,8,59,14,53,20,47,26,44]],
  cyan: [[-45,43,-42,47,-38,50,-33,52,-27,54,-21,57,-16,62,-11,67,-5,71,1,74,8,74.5,15,72,21,68,25,63,28,56,29,48,28,41],
         [-38,42,-36,47,-32,51,-27,53,-21,55,-15,59,-10,64,-4,69,3,72,10,73,17,71,22,66,26,59,28,51,28,43],
         [-43,44,-39,48,-34,51,-28,53.5,-22,56,-17,60,-12,65,-6,69,1,72,8,73,15,71.5,21,67,25,62,28,54,29,46]],
  black: [[-50,43.5,-45,46,-40,50,-35,54,-29,57,-23,60,-17,64,-10,67,-3,69.5,5,69.5,12,68,18,64,24,59,29,55,33,52],
          [-46,43,-42,47,-37,51,-31,55,-25,58,-19,62,-13,65,-6,67.5,1,68,8,67.5,15,65,21,61,26,57,31,53],
          [-44,44,-40,48,-35,52,-29,56,-23,59,-16,63,-9,66,-2,68,6,68.5,13,67,19,63,25,58,30,54]]
};

const grid = [
  [none1, none2, none3],
  [b1, b2, b3],
  [h1, h2, h3],
  [k1, k2, k3],
  [s1, s2, s3],
  [sy1, sy2, sy3],
  [zy1, zy2, zy3]
];

const colors = { blue: "#2a47b8", red: "#ee1f23", yellow: "#e8e83c", cyan: "#55c5cb", black: "#151515" };
const drawOrder = ["black", "cyan", "yellow", "red", "blue"];

// layout
const width = 1162, height = 1557;
const colLeft = [51, 444, 834];
const rowTop = [
  [67, 283, 496, 711, 925, 1138, 1352],
  [69, 283, 496, 711, 920, 1134, 1346],
  [69, 283, 497, 711, 925, 1138, 1352]
];
const pw = 318, ph = 160;
// title position above each panel: [centre x, baseline]
const titlePos = [
  [[212, 36], [607, 38], [990, 38]],
  [[205, 258], [620, 258], [993, 258]],
  [[211, 472], [608, 472], [1000, 472]],
  [[219, 692], [608, 687], [1000, 687]],
  [[215, 904], [610, 900], [990, 900]],
  [[207, 1119], [618, 1115], [1003, 1115]],
  [[216, 1333], [625, 1330], [1000, 1333]]
];
const tickFont = "Liberation Sans, Arial, sans-serif";

const svg = d3.select("#chart").attr("width", width).attr("height", height);
svg.append("rect").attr("width", width).attr("height", height).attr("fill", "#fff");

// faint rule behind the headers
[[410, 553], [665, 930], [1050, 1162]].forEach(s => {
  svg.append("line").attr("x1", s[0]).attr("x2", s[1]).attr("y1", 23).attr("y2", 23)
    .attr("stroke", "#e4e4e4").attr("stroke-width", 1);
});

const toPts = a => d3.range(0, a.length, 2).map(i => [a[i], a[i + 1]]);

grid.forEach((row, r) => {
  row.forEach((panel, c) => {
    const x0 = colLeft[c], y0 = rowTop[c][r];
    const x = d3.scaleLinear().domain([-50, 50]).range([x0, x0 + pw]);
    const y = d3.scaleLinear().domain(yDomains[c]).range([y0 + ph, y0]);
    const yTicks = d3.range(yDomains[c][0], yDomains[c][1] + 1, 10);

    const g = svg.append("g");
    const clipId = `clip-${r}-${c}`;
    g.append("clipPath").attr("id", clipId)
      .append("rect").attr("x", x0).attr("y", y0).attr("width", pw).attr("height", ph);

    // grid
    g.append("g").attr("transform", `translate(0,${y0 + ph})`)
      .call(d3.axisBottom(x).tickValues(xTickValues).tickSize(-ph).tickFormat(""))
      .call(a => a.select(".domain").remove())
      .call(a => a.selectAll("line").attr("stroke", "#d0d0d0").attr("stroke-width", 1.3));
    g.append("g").attr("transform", `translate(${x0},0)`)
      .call(d3.axisLeft(y).tickValues(yTicks).tickSize(-pw).tickFormat(""))
      .call(a => a.select(".domain").remove())
      .call(a => a.selectAll("line").attr("stroke", "#d0d0d0").attr("stroke-width", 1.3));

    // curves
    const line = d3.line().x(d => x(d[0])).y(d => y(d[1])).curve(d3.curveCatmullRom.alpha(0.5));
    const curves = g.append("g").attr("clip-path", `url(#${clipId})`);
    drawOrder.forEach(k => {
      (panel[k] || []).forEach(a => {
        curves.append("path").attr("d", line(toPts(a)))
          .attr("fill", "none").attr("stroke", colors[k])
          .attr("stroke-width", 2.2).attr("stroke-linecap", "round");
      });
    });

    // inward ticks on all four sides
    const tk = "#333";
    g.append("g").attr("transform", `translate(0,${y0 + ph})`)
      .call(d3.axisTop(x).tickValues(xTickValues).tickSize(4).tickFormat(""))
      .call(a => a.select(".domain").remove()).selectAll("line").attr("stroke", tk).attr("stroke-width", 1.5);
    g.append("g").attr("transform", `translate(0,${y0})`)
      .call(d3.axisBottom(x).tickValues(xTickValues).tickSize(4).tickFormat(""))
      .call(a => a.select(".domain").remove()).selectAll("line").attr("stroke", tk).attr("stroke-width", 1.5);
    g.append("g").attr("transform", `translate(${x0},0)`)
      .call(d3.axisRight(y).tickValues(yTicks).tickSize(4).tickFormat(""))
      .call(a => a.select(".domain").remove()).selectAll("line").attr("stroke", tk).attr("stroke-width", 1.5);
    g.append("g").attr("transform", `translate(${x0 + pw},0)`)
      .call(d3.axisLeft(y).tickValues(yTicks).tickSize(4).tickFormat(""))
      .call(a => a.select(".domain").remove()).selectAll("line").attr("stroke", tk).attr("stroke-width", 1.5);

    g.append("rect").attr("x", x0).attr("y", y0).attr("width", pw).attr("height", ph)
      .attr("fill", "none").attr("stroke", "#2b2b2b").attr("stroke-width", 2);

    // y tick labels
    g.append("g").attr("transform", `translate(${x0},0)`)
      .call(d3.axisLeft(y).tickValues(yTicks).tickSize(0).tickPadding(4).tickFormat(d => String(d)))
      .call(a => a.select(".domain").remove())
      .call(a => a.selectAll("text").attr("font-family", tickFont)
        .attr("font-size", 14).attr("font-weight", "bold").attr("fill", "#464646"));

    g.append("text")
      .attr("transform", `translate(${x0 - 33},${y0 + ph / 2}) rotate(-90)`)
      .attr("text-anchor", "middle").attr("dy", "0.35em")
      .attr("font-family", tickFont).attr("font-size", 14)
      .attr("font-weight", "bold").attr("fill", "#464646").text("y(mm)");

    if (r === grid.length - 1) {
      g.append("g").attr("transform", `translate(0,${y0 + ph})`)
        .call(d3.axisBottom(x).tickValues(xTickValues).tickSize(0).tickPadding(7).tickFormat(d => String(d)))
        .call(a => a.select(".domain").remove())
        .call(a => a.selectAll("text").attr("font-family", tickFont)
          .attr("font-size", 14).attr("font-weight", "bold").attr("fill", "#464646"));
      g.append("text").attr("x", x0 + pw / 2).attr("y", y0 + ph + 42)
        .attr("text-anchor", "middle")
        .attr("font-family", tickFont).attr("font-size", 14)
        .attr("font-weight", "bold").attr("fill", "#464646").text("x(mm)");
    }

    // panel title
    const tp = titlePos[r][c];
    const t = svg.append("text").attr("x", tp[0]).attr("y", tp[1]).attr("text-anchor", "middle")
      .attr("font-family", "Liberation Serif, 'Noto Sans CJK JP', serif").attr("font-size", 26)
      .attr("fill", "#222");
    if (r === 0) {
      t.append("tspan").text("頭子音 ");
      t.append("tspan").attr("font-weight", "bold").attr("font-family", "Liberation Sans, sans-serif").text("–");
    } else {
      t.text("頭子音" + rowNames[r]);
    }
  });
});
</script>
</body>
</html>
